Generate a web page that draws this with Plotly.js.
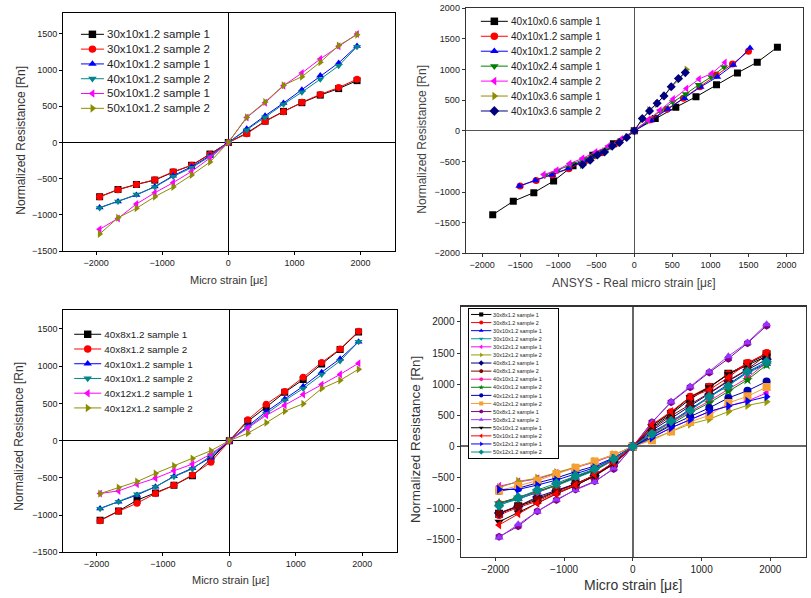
<!DOCTYPE html>
<html><head><meta charset="utf-8">
<script src="https://cdn.plot.ly/plotly-3.0.1.min.js"></script>
<style>html,body{margin:0;padding:0;background:#fff}#chart{width:811px;height:598px}</style>
</head><body><div id="chart"></div>
<script>
// ---------- Panel A (top-left) ----------
const strainA = [-1946,-1668,-1390,-1112,-834,-556,-278,0,278,556,834,1112,1390,1668,1946];
const namesA = ["30x10x1.2 sample 1","30x10x1.2 sample 2","40x10x1.2 sample 1","40x10x1.2 sample 2","50x10x1.2 sample 1","50x10x1.2 sample 2"];
const a_30x10_s1 = [-750,-650,-580,-520,-410,-315,-160,0,130,295,430,550,655,745,855];
const a_30x10_s2 = [-750,-655,-580,-515,-405,-315,-165,0,120,290,425,555,665,760,875];
const a_40x10_s1 = [-900,-815,-725,-610,-460,-335,-185,0,190,370,545,730,925,1100,1335];
const a_40x10_s2 = [-905,-815,-720,-615,-470,-350,-195,0,170,350,530,695,875,1060,1325];
const a_50x10_s1 = [-1200,-1050,-850,-695,-555,-400,-215,0,345,550,785,960,1155,1330,1500];
const a_50x10_s2 = [-1265,-1040,-910,-750,-615,-450,-270,0,350,560,790,910,1110,1340,1490];

// ---------- Panel B (top-right) ----------
const namesB = ["40x10x0.6 sample 1","40x10x1.2 sample 1","40x10x1.2 sample 2","40x10x2.4 sample 1","40x10x2.4 sample 2","40x10x3.6 sample 1","40x10x3.6 sample 2"];
const bx_06_s1 = [-1860,-1590,-1320,-1060,-805,-545,-275,0,275,545,810,1080,1355,1615,1880];
const by_06_s1 = [-1370,-1150,-1010,-820,-570,-400,-210,0,200,385,555,750,945,1120,1365];
const bx_12_s1 = [-1500,-1290,-1075,-860,-645,-430,-215,0,215,430,645,860,1075,1290,1500];
const by_12_s1 = [-900,-810,-720,-620,-490,-360,-200,0,180,350,530,720,910,1090,1300];
const bx_12_s2 = [-1510,-1300,-1080,-865,-650,-435,-215,0,220,440,660,870,1090,1300,1520];
const by_12_s2 = [-900,-810,-720,-615,-480,-355,-190,0,170,350,530,715,880,1075,1350];
const bx_24_s1 = [-1180,-1010,-845,-675,-505,-340,-170,0,170,340,505,675,845,1010,1180];
const by_24_s1 = [-730,-650,-560,-470,-370,-270,-150,0,160,320,470,600,750,880,1040];
const bx_24_s2 = [-1190,-1020,-850,-680,-510,-340,-170,0,180,335,510,685,850,1015,1190];
const by_24_s2 = [-715,-645,-535,-450,-345,-250,-135,0,175,335,520,690,845,935,1115];
const bx_36_s1 = [-690,-590,-490,-395,-295,-195,-100,0,100,195,295,395,490,590,685];
const by_36_s1 = [-560,-480,-405,-330,-255,-180,-100,0,180,340,440,570,720,840,1000];
const bx_36_s2 = [-680,-580,-485,-390,-290,-195,-100,0,105,200,300,390,485,580,670];
const by_36_s2 = [-555,-480,-395,-345,-250,-190,-110,0,200,325,450,570,720,855,950];

// ---------- Panel C (bottom-left) ----------
const strainC = [-1946,-1668,-1390,-1112,-834,-556,-278,0,278,556,834,1112,1390,1668,1946];
const namesC = ["40x8x1.2 sample 1","40x8x1.2 sample 2","40x10x1.2 sample 1","40x10x1.2 sample 2","40x12x1.2 sample 1","40x12x1.2 sample 2"];
const c_40x8_s1 = [-1070,-945,-800,-705,-600,-470,-250,0,260,450,650,820,1030,1225,1460];
const c_40x8_s2 = [-1075,-950,-840,-710,-600,-460,-290,0,280,490,660,850,1050,1230,1470];
const c_40x10_s1 = [-910,-820,-730,-620,-480,-370,-225,0,200,390,560,730,920,1100,1330];
const c_40x10_s2 = [-915,-820,-720,-620,-485,-380,-200,0,180,360,540,700,890,1070,1330];
const c_40x12_s1 = [-710,-675,-585,-505,-405,-315,-180,0,170,340,475,620,755,890,1040];
const c_40x12_s2 = [-712,-630,-550,-440,-338,-240,-135,0,100,240,395,495,700,810,960];

// ---------- Panel D (bottom-right) ----------
const strainD = [-1946,-1668,-1390,-1112,-834,-556,-278,0,278,556,834,1112,1390,1668,1946];
const namesD = ["30x8x1.2 sample 1","30x8x1.2 sample 2","30x10x1.2 sample 1","30x10x1.2 sample 2","30x12x1.2 sample 1","30x12x1.2 sample 2",
  "40x8x1.2 sample 1","40x8x1.2 sample 2","40x10x1.2 sample 1","40x10x1.2 sample 2","40x12x1.2 sample 1","40x12x1.2 sample 2",
  "50x8x1.2 sample 1","50x8x1.2 sample 2","50x10x1.2 sample 1","50x10x1.2 sample 2","50x12x1.2 sample 1","50x12x1.2 sample 2"];
const d_30x8_s1  = [-1080,-960,-860,-720,-600,-470,-270,0,300,520,760,950,1170,1330,1480];
const d_30x8_s2  = [-1100,-980,-880,-740,-620,-480,-280,0,340,550,800,960,1160,1340,1500];
const d_30x10_s1 = [-910,-840,-740,-620,-500,-380,-210,0,230,400,600,800,1000,1200,1330];
const d_30x10_s2 = [-930,-850,-730,-630,-510,-390,-220,0,210,390,580,790,990,1180,1320];
const d_30x12_s1 = [-640,-570,-520,-430,-350,-250,-140,0,150,300,430,560,650,730,860];
const d_30x12_s2 = [-660,-560,-510,-420,-340,-240,-130,0,120,240,360,440,560,660,720];
const d_40x8_s1  = [-1070,-960,-810,-710,-600,-470,-250,0,260,450,650,840,1050,1230,1400];
const d_40x8_s2  = [-1070,-950,-840,-710,-600,-460,-290,0,280,490,670,860,1060,1240,1470];
const d_40x10_s1 = [-910,-820,-730,-620,-480,-370,-220,0,200,390,560,730,920,1100,1350];
const d_40x10_s2 = [-910,-820,-720,-620,-480,-380,-200,0,180,360,540,700,890,1070,1310];
const d_40x12_s1 = [-715,-670,-585,-505,-405,-315,-180,0,170,340,480,620,780,895,1045];
const d_40x12_s2 = [-710,-630,-550,-440,-340,-240,-135,0,100,240,395,500,700,805,955];
const d_50x8_s1  = [-1450,-1280,-1040,-860,-690,-560,-360,0,390,710,950,1190,1410,1660,1940];
const d_50x8_s2  = [-1460,-1250,-1045,-850,-700,-570,-350,0,380,720,965,1200,1450,1670,1965];
const d_50x10_s1 = [-1210,-1060,-900,-760,-630,-470,-270,0,330,540,790,950,1160,1310,1450];
const d_50x10_s2 = [-1260,-1080,-910,-760,-620,-450,-260,0,350,560,790,910,1110,1340,1490];
const d_50x12_s1 = [-690,-690,-620,-540,-440,-340,-190,0,140,300,430,560,650,730,800];
const d_50x12_s2 = [-950,-820,-700,-590,-470,-360,-200,0,200,410,580,800,970,1200,1360];

// ---------- styles ----------
const FONT = 'Liberation Sans, Arial, sans-serif';
const W = 811, H = 598;
const colA = ['#000000','#ff0000','#0000ff','#00868b','#ff00ff','#8c8c00'];
const symA = ['square','circle','triangle-up','triangle-down','triangle-left','triangle-right'];
const colB = ['#000000','#ff0000','#0000ff','#008000','#ff00ff','#8c8c00','#000080'];
const symB = ['square','circle','triangle-up','triangle-down','triangle-left','triangle-right','diamond'];
const colD = ['#000000','#ff0000','#0000ff','#009999','#ff00ff','#999900','#000080','#800000','#ff1aa0',
  '#008000','#0000b0','#f5a030','#800080','#9933ff','#000000','#ff0000','#0000ff','#008b8b'];
const symD = ['square','circle','triangle-up','triangle-down','triangle-left','triangle-right','diamond','hexagon','hexagon',
  'star','circle','square','hexagon','triangle-up','triangle-down','triangle-left','triangle-right','diamond'];

const traces = [];
function add(x, y, name, color, symbol, xa, ya, leg, msize) {
  traces.push({type:'scatter', mode:'lines+markers', x, y, name, xaxis:xa, yaxis:ya, legend:leg,
    line:{color, width:1}, marker:{color, symbol, size:msize, line:{width:0}}});
}
const seriesA = [a_30x10_s1,a_30x10_s2,a_40x10_s1,a_40x10_s2,a_50x10_s1,a_50x10_s2];
seriesA.forEach((v,i)=>add(strainA, v, namesA[i], colA[i], symA[i], 'x', 'y', 'legend', 7));
const seriesBx = [bx_06_s1,bx_12_s1,bx_12_s2,bx_24_s1,bx_24_s2,bx_36_s1,bx_36_s2];
const seriesBy = [by_06_s1,by_12_s1,by_12_s2,by_24_s1,by_24_s2,by_36_s1,by_36_s2];
seriesBx.forEach((v,i)=>add(v, seriesBy[i], namesB[i], colB[i], symB[i], 'x2', 'y2', 'legend2', 7));
const seriesC = [c_40x8_s1,c_40x8_s2,c_40x10_s1,c_40x10_s2,c_40x12_s1,c_40x12_s2];
seriesC.forEach((v,i)=>add(strainC, v, namesC[i], colA[i], symA[i], 'x3', 'y3', 'legend3', 7));
const seriesD = [d_30x8_s1,d_30x8_s2,d_30x10_s1,d_30x10_s2,d_30x12_s1,d_30x12_s2,d_40x8_s1,d_40x8_s2,d_40x10_s1,
  d_40x10_s2,d_40x12_s1,d_40x12_s2,d_50x8_s1,d_50x8_s2,d_50x10_s1,d_50x10_s2,d_50x12_s1,d_50x12_s2];
seriesD.forEach((v,i)=>add(strainD, v, namesD[i], colD[i], symD[i], 'x4', 'y4', 'legend4', 8));

function ax(px0, px1, range, dtick, anchor, isY, lc, zc, fs, lw, zw) {
  const dom = isY ? [1 - px1 / H, 1 - px0 / H] : [px0 / W, px1 / W];
  return {domain: dom, range, dtick, tick0: 0, anchor, showline: true, mirror: true, linecolor: lc, linewidth: lw || 1,
    ticks: 'outside', ticklen: 3, tickcolor: lc, zeroline: true, zerolinecolor: zc, zerolinewidth: zw || 1,
    showgrid: false, fixedrange: true, tickfont: {family: FONT, size: fs, color: '#222'}};
}
function ann(px, py, text, size, angle, color) {
  return {xref:'paper', yref:'paper', x: px / W, y: 1 - py / H, text, showarrow:false, textangle: angle || 0,
    xanchor:'center', yanchor:'middle', font:{family:FONT, size, color: color || '#333'}};
}
function leg(px, py, iw, bw) {
  return {x: px / W, y: 1 - py / H, xanchor:'left', yanchor:'top', bgcolor:'rgba(255,255,255,0)',
    borderwidth: bw || 0, bordercolor:'#000', itemwidth: iw, itemsizing:'constant',
    font:{family:FONT, size:16, color:'#222'}, tracegroupgap:0};
}

const layout = {
  width: W, height: H, margin:{l:0,r:0,t:0,b:0}, paper_bgcolor:'#fff', plot_bgcolor:'#fff',
  showlegend: true, hovermode: false,
  xaxis:  ax(63, 395, [-2500, 2520], 1000, 'y', false, '#000', '#000', 9),
  yaxis:  ax(13, 251, [-1500, 1790], 500, 'x', true, '#000', '#000', 9),
  xaxis2: ax(465.7, 803.3, [-2215, 2220], 500, 'y2', false, '#333', '#555', 9),
  yaxis2: ax(8.3, 253.3, [-2000, 2000], 500, 'x2', true, '#333', '#555', 9),
  xaxis3: ax(63.3, 396.7, [-2500, 2520], 1000, 'y3', false, '#000', '#000', 9),
  yaxis3: ax(310, 552.3, [-1500, 1755], 500, 'x3', true, '#000', '#000', 9),
  xaxis4: ax(461, 805.7, [-2500, 2515], 1000, 'y4', false, '#333', '#666', 10, 1.5, 2),
  yaxis4: ax(306.7, 556.7, [-1770, 2245], 500, 'x4', true, '#333', '#666', 10, 1.5, 2),
  legend:  leg(77.8, 23.8, 37),
  legend2: leg(477.7, 10.7, 43),
  legend3: leg(71.1, 323.8, 43.6),
  legend4: leg(468.3, 0, 60, 3),
  annotations: [
    ann(228, 280, 'Micro strain [με]', 11),
    ann(20.7, 140, 'Normalized Resistance [Rn]', 12, -90),
    ann(634, 282.7, 'ANSYS - Real micro strain [με]', 12, 0, '#444'),
    ann(421.7, 139, 'Normalized Resistance [Rn]', 12, -90, '#444'),
    ann(230, 580, 'Micro strain [με]', 11),
    ann(19, 436.7, 'Normalized Resistance [Rn]', 12, -90),
    ann(632.5, 585, 'Micro strain [με]', 14),
    ann(415, 440, 'Normalized Resistance [Rn]', 13.5, -90)
  ]
};
layout.legend4.bgcolor = '#fff';

// legend placement: [left px, top px, scale, text size before scaling, box width before scaling]
const legendFit = {legend:[77.8, 23.8, 0.622, 18.5, 0], legend2:[477.7, 10.7, 0.628, 19, 0],
  legend3:[71.1, 323.8, 0.619, 18.5, 0], legend4:[468.3, 307.7, 0.34, 19, 265]};
Plotly.newPlot('chart', traces, layout, {staticPlot:true, displayModeBar:false}).then(function(){
  Object.keys(legendFit).forEach(function(k){
    const g = document.querySelector('.infolayer > g.' + k);
    const f = legendFit[k];
    if (!g) return;
    g.setAttribute('transform', 'translate(' + f[0] + ',' + f[1] + ') scale(' + f[2] + ')');
    g.querySelectorAll('text.legendtext').forEach(function(t){ t.style.fontSize = f[3] + 'px'; });
    g.querySelectorAll('.legendlines path').forEach(function(p){ p.style.strokeWidth = (1 / f[2]).toFixed(2) + 'px'; });
    g.querySelectorAll('[clip-path]').forEach(function(e){ e.removeAttribute('clip-path'); });
    if (f[4]) { const bg = g.querySelector('rect.bg'); if (bg) bg.setAttribute('width', f[4]); }
  });
});
</script></body></html>
